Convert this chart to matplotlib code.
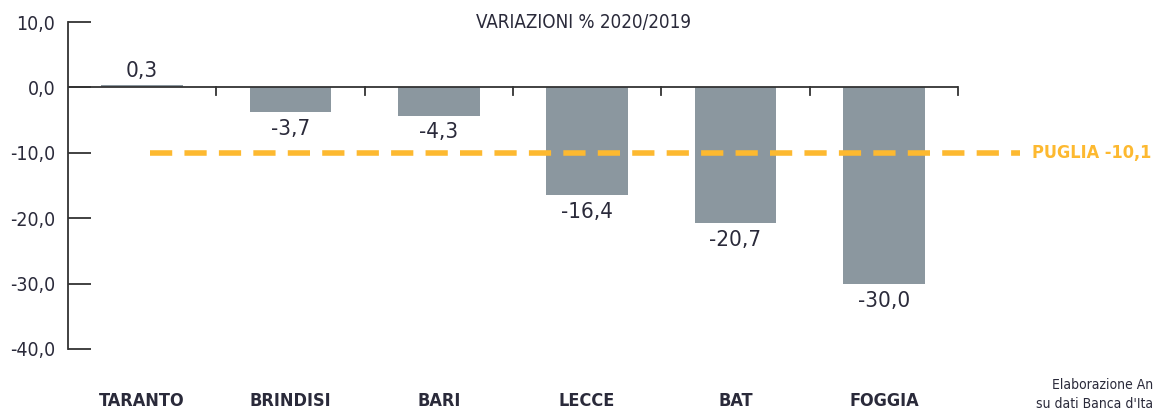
import matplotlib.pyplot as plt

# Data
province = ['TARANTO', 'BRINDISI', 'BARI', 'LECCE', 'BAT', 'FOGGIA']
variazione = [0.3, -3.7, -4.3, -16.4, -20.7, -30.0]
puglia = -10.1
yticks = [10, 0, -10, -20, -30, -40]

plt.rcParams['font.family'] = ['DejaVu Sans']
plt.rcParams['font.stretch'] = 'condensed'

bar_col = '#8b979f'
orange = '#fdb930'
txt = '#2a2a3a'

fig = plt.figure(figsize=(11.55, 4.12), dpi=100)
ax = fig.add_axes([68 / 1155, 1 - 349 / 412, 890 / 1155, 327 / 412])

x = list(range(len(province)))
ax.bar(x, variazione, width=0.55, color=bar_col, zorder=2)
ax.set_xlim(-0.5, len(province) - 0.5)
ax.set_ylim(-40, 10)

# zero line with small separators between categories
ax.axhline(0, color='#333333', lw=1.3, zorder=3)
for b in range(1, len(province) + 1):
    ax.plot([b - 0.5, b - 0.5], [0, -1.2], color='#333333', lw=1.3, zorder=3, clip_on=False)

# value labels
for xi, v in zip(x, variazione):
    lab = f'{v:.1f}'.replace('.', ',')
    if v >= 0:
        ax.annotate(lab, (xi, v), xytext=(0, 3), textcoords='offset points',
                    ha='center', va='bottom', fontsize=16, color=txt, fontweight='medium')
    else:
        ax.annotate(lab, (xi, v), xytext=(0, -5), textcoords='offset points',
                    ha='center', va='top', fontsize=16, color=txt, fontweight='medium')

# Puglia average line
ax.plot([0.055, 5.92], [puglia, puglia], color=orange, lw=4, dashes=(4, 2.2),
        clip_on=False, zorder=4)
ax.text(6.0, puglia, 'PUGLIA ' + f'{puglia:.1f}'.replace('.', ','), color=orange,
        fontsize=13, fontweight='bold', va='center', ha='left', clip_on=False)

ax.set_yticks(yticks)
ax.set_yticklabels([f'{t:.1f}'.replace('.', ',') for t in yticks], fontsize=14, color=txt)
ax.tick_params(axis='y', direction='in', length=16.5, width=1.3, color='#333333', pad=9)
ax.set_xticks(x)
ax.set_xticklabels(province, fontsize=13, fontweight='bold', color=txt)
ax.tick_params(axis='x', length=0, pad=31)

for s in ['top', 'right', 'bottom']:
    ax.spines[s].set_visible(False)
ax.spines['left'].set_color('#333333')
ax.spines['left'].set_linewidth(1.3)

fig.text(583 / 1155, 1 - 22 / 412, 'VARIAZIONI % 2020/2019', ha='center', va='center',
         fontsize=13.5, color=txt)
# footnote, cut at the right edge as in the source
fig.text(1153 / 1155, 1 - 385 / 412, 'Elaborazione An', ha='right', va='center',
         fontsize=10, color=txt)
fig.text(1153 / 1155, 1 - 404 / 412, "su dati Banca d'Ita", ha='right', va='center',
         fontsize=10, color=txt)

plt.savefig('out.png', dpi=100)
